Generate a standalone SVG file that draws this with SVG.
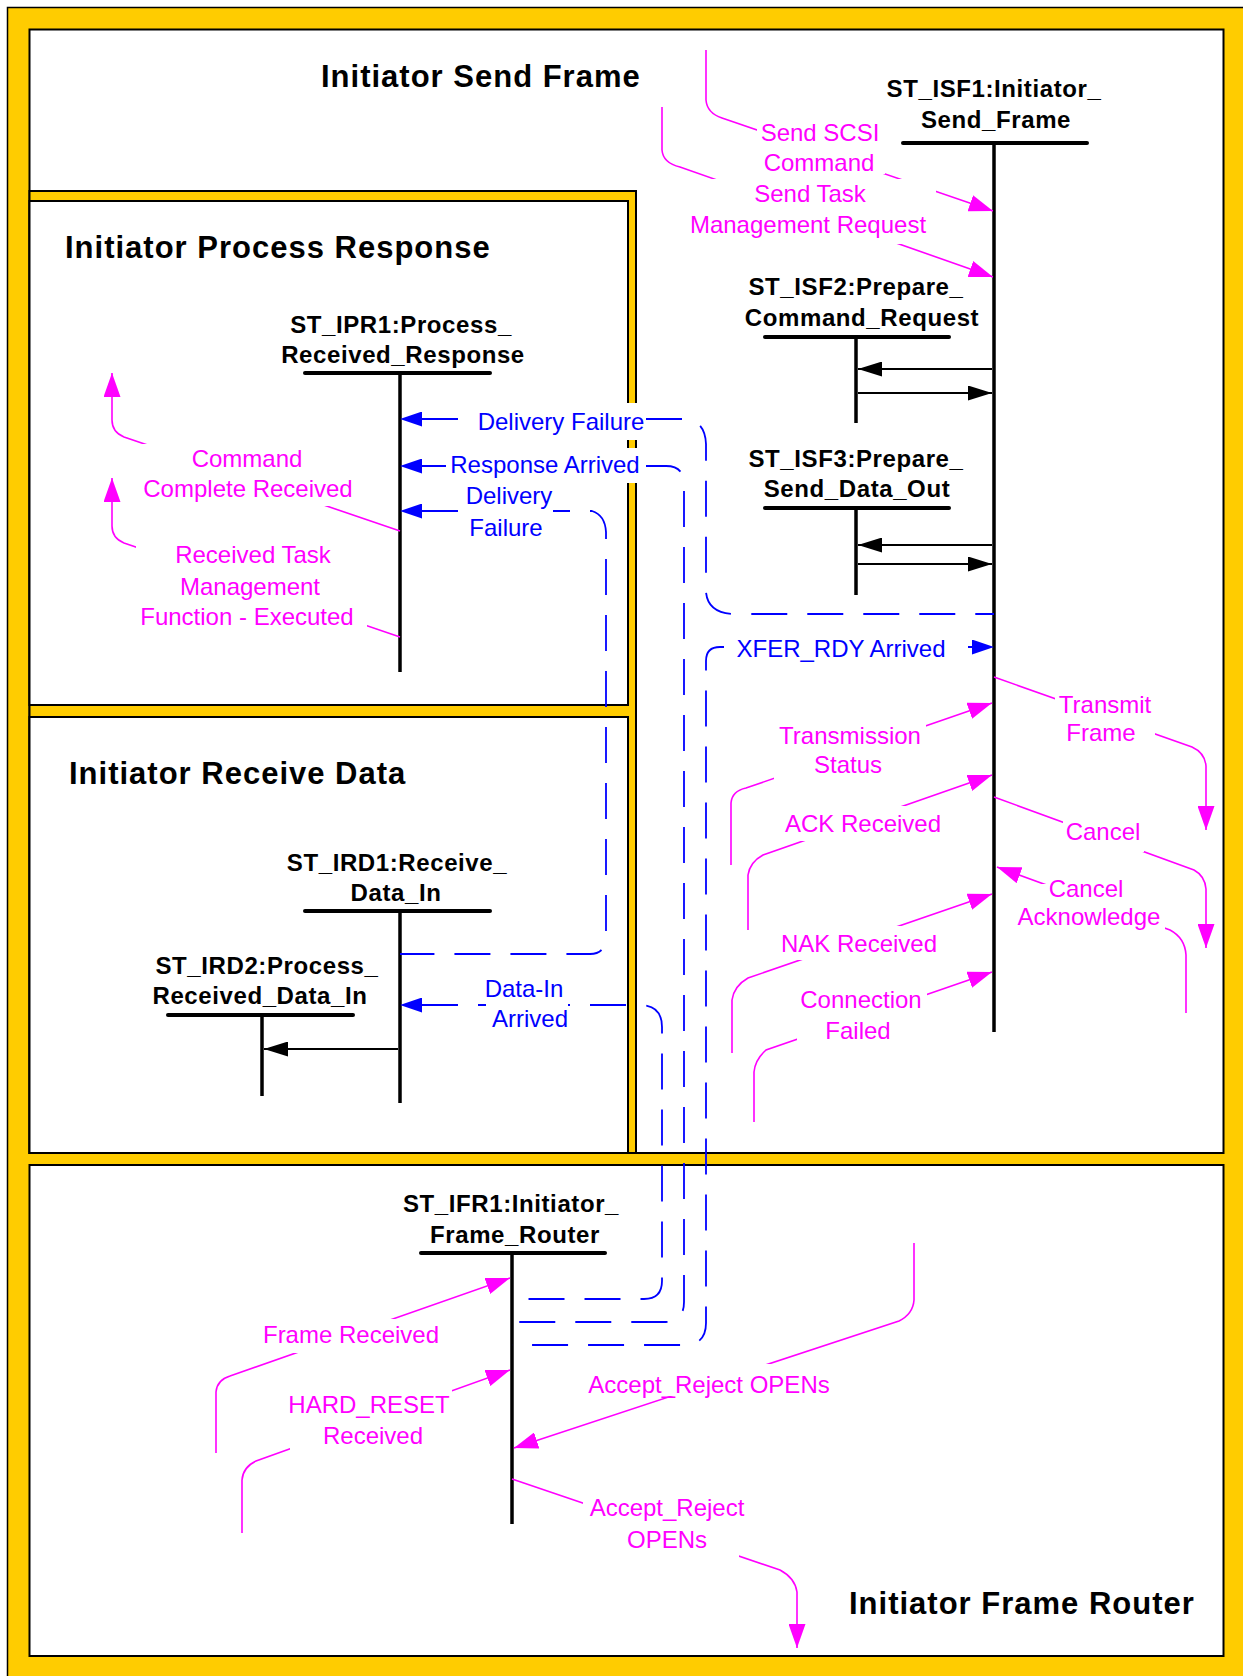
<svg xmlns="http://www.w3.org/2000/svg" width="1243" height="1676" viewBox="0 0 1243 1676">
<style>
.panel{fill:#fff;stroke:#000;stroke-width:2}
.ybox{fill:#FFCC00;stroke:#000;stroke-width:2}
.title{font-family:"Liberation Sans",Arial,sans-serif;font-weight:bold;font-size:31px;letter-spacing:1px;fill:#000}
.nl{font-family:"Liberation Sans",Arial,sans-serif;font-weight:bold;font-size:24px;letter-spacing:0.6px;fill:#000;text-anchor:middle}
.bar{stroke:#000;stroke-width:4;stroke-linecap:round;fill:none}
.life{stroke:#000;stroke-width:3.5;fill:none}
.ev{stroke:#FF00FF;stroke-width:1.6;fill:none;marker-end:url(#mh)}
.msg{stroke:#0000FF;stroke-width:1.8;fill:none;stroke-dasharray:36 20;marker-start:url(#bh)}
.int{stroke:#000;stroke-width:2;fill:none;marker-end:url(#kh)}
.lbg{fill:#fff}
.mt{font-family:"Liberation Sans",Arial,sans-serif;font-size:24px;fill:#FF00FF;text-anchor:middle}
.bt{font-family:"Liberation Sans",Arial,sans-serif;font-size:24px;fill:#0000FF;text-anchor:middle}
</style>
<defs>
<marker id="mh" markerUnits="userSpaceOnUse" markerWidth="24" markerHeight="17" refX="24" refY="8.5" orient="auto"><path d="M0,0 L24,8.5 L0,17 z" fill="#FF00FF"/></marker>
<marker id="bh" markerUnits="userSpaceOnUse" markerWidth="22" markerHeight="15" refX="0" refY="7.5" orient="auto-start-reverse"><path d="M0,0 L22,7.5 L0,15 z" fill="#0000FF"/></marker>
<marker id="kh" markerUnits="userSpaceOnUse" markerWidth="24" markerHeight="15" refX="24" refY="7.5" orient="auto"><path d="M0,0 L24,7.5 L0,15 z" fill="#000"/></marker>
</defs>

<rect x="7.5" y="7.5" width="1250" height="1690" fill="#FFCC00" stroke="#000" stroke-width="1.5"/>

<g id="panel-send-frame">
<rect class="panel" x="29.5" y="29.5" width="1194" height="1123.5"/>
<text class="title" x="321" y="87">Initiator Send Frame</text>
</g>
<g id="panel-process-response">
<rect class="ybox" x="29.5" y="191" width="606.5" height="962"/>
<rect class="panel" x="29.5" y="201" width="598.5" height="504"/>
<text class="title" x="65" y="258">Initiator Process Response</text>
</g>
<g id="panel-receive-data">
<rect class="panel" x="29.5" y="717" width="598.5" height="436"/>
<text class="title" x="69" y="784">Initiator Receive Data</text>
</g>
<g id="panel-frame-router">
<rect class="panel" x="29.5" y="1165" width="1194" height="491"/>
<text class="title" x="849" y="1614">Initiator Frame Router</text>
</g>

<g id="ST_ISF1">
<text class="nl" x="994" y="97">ST_ISF1:Initiator_</text>
<text class="nl" x="996" y="128">Send_Frame</text>
<line class="bar" x1="903" y1="143" x2="1087" y2="143"/>
<line class="life" x1="994" y1="143" x2="994" y2="1032"/>
</g>
<g id="ST_ISF2">
<text class="nl" x="856" y="295">ST_ISF2:Prepare_</text>
<text class="nl" x="862" y="326">Command_Request</text>
<line class="bar" x1="765" y1="337" x2="949" y2="337"/>
<line class="life" x1="856" y1="337" x2="856" y2="423"/>
</g>
<g id="ST_ISF3">
<text class="nl" x="856" y="467">ST_ISF3:Prepare_</text>
<text class="nl" x="857" y="497">Send_Data_Out</text>
<line class="bar" x1="765" y1="508" x2="949" y2="508"/>
<line class="life" x1="856" y1="508" x2="856" y2="595"/>
</g>
<g id="ST_IPR1">
<text class="nl" x="401" y="333">ST_IPR1:Process_</text>
<text class="nl" x="403" y="363">Received_Response</text>
<line class="bar" x1="305" y1="373" x2="490" y2="373"/>
<line class="life" x1="400" y1="373" x2="400" y2="672"/>
</g>
<g id="ST_IRD1">
<text class="nl" x="397" y="871">ST_IRD1:Receive_</text>
<text class="nl" x="396" y="901">Data_In</text>
<line class="bar" x1="305" y1="911" x2="490" y2="911"/>
<line class="life" x1="400" y1="911" x2="400" y2="1103"/>
</g>
<g id="ST_IRD2">
<text class="nl" x="267" y="974">ST_IRD2:Process_</text>
<text class="nl" x="260" y="1004">Received_Data_In</text>
<line class="bar" x1="168" y1="1015" x2="353" y2="1015"/>
<line class="life" x1="262" y1="1015" x2="262" y2="1096"/>
</g>
<g id="ST_IFR1">
<text class="nl" x="511" y="1212">ST_IFR1:Initiator_</text>
<text class="nl" x="515" y="1243">Frame_Router</text>
<line class="bar" x1="421" y1="1253" x2="605" y2="1253"/>
<line class="life" x1="512" y1="1253" x2="512" y2="1524"/>
</g>

<g id="connectors">
<path class="int" d="M992 369 H858"/>
<path class="int" d="M858 393 H992"/>
<path class="int" d="M992 545 H858"/>
<path class="int" d="M858 564 H992"/>
<path class="int" d="M398 1049 H264"/>

<path class="msg" d="M422 419 H684 Q705 420 706 444 V592 Q708 614 736 614 H994"/>
<path class="msg" d="M422 466 H666 Q684 466 684 484 V1302 Q684 1322 664 1322 H512"/>
<path class="msg" d="M422 511 H592 Q605 515 606 532 V936 Q606 954 590 954 H400"/>
<path class="msg" style="stroke-dashoffset:32" d="M972 647 H720 Q706 647 706 661 V1323 Q706 1345 684 1345 H512"/>
<path class="msg" d="M422 1005 H640 Q662 1005 662 1027 V1281 Q662 1299 644 1299 H512"/>

<path class="ev" d="M706 50 V100 Q707 113 722 118 L993 211"/>
<path class="ev" d="M662 107 V150 Q663 163 680 167 L993 277"/>
<path class="ev" d="M400 531 L124 437 Q112 432 112 420 V373"/>
<path class="ev" d="M400 637 L124 543 Q112 538 112 526 V478"/>
<path class="ev" d="M994 677 L1192 747 Q1205 753 1206 766 V830"/>
<path class="ev" d="M731 865 V803 Q732 791 746 788 L992 703"/>
<path class="ev" d="M748 930 V875 Q750 862 763 855 L992 775"/>
<path class="ev" d="M994 797 L1194 870 Q1205 876 1206 889 V948"/>
<path class="ev" d="M1186 1013 V955 Q1185 938 1170 930 L997 867"/>
<path class="ev" d="M732 1053 V1000 Q734 986 748 978 L992 894"/>
<path class="ev" d="M754 1122 V1072 Q755 1060 766 1050 L992 972"/>
<path class="ev" d="M216 1453 V1392 Q217 1380 230 1376 L510 1278"/>
<path class="ev" d="M242 1533 V1480 Q243 1467 256 1461 L510 1370"/>
<path class="ev" d="M914 1243 V1300 Q913 1314 899 1321 L514 1448"/>
<path class="ev" d="M512 1479 L780 1570 Q795 1578 797 1592 V1648"/>
</g>

<g id="connector-labels">
<rect class="lbg" x="757" y="112" width="128" height="62"/>
<text class="mt" x="820" y="141">Send SCSI</text>
<text class="mt" x="819" y="171">Command</text>
<rect class="lbg" x="680" y="179" width="256" height="65"/>
<text class="mt" x="810" y="202">Send Task</text>
<text class="mt" x="808" y="233">Management Request</text>
<rect class="lbg" x="140" y="444" width="214" height="62"/>
<text class="mt" x="247" y="467">Command</text>
<text class="mt" x="248" y="497">Complete Received</text>
<rect class="lbg" x="136" y="546" width="231" height="86"/>
<text class="mt" x="253" y="563">Received Task</text>
<text class="mt" x="250" y="595">Management</text>
<text class="mt" x="247" y="625">Function - Executed</text>
<rect class="lbg" x="1055" y="692" width="100" height="56"/>
<text class="mt" x="1105" y="713">Transmit</text>
<text class="mt" x="1101" y="741">Frame</text>
<rect class="lbg" x="774" y="724" width="152" height="57"/>
<text class="mt" x="850" y="744">Transmission</text>
<text class="mt" x="848" y="773">Status</text>
<rect class="lbg" x="782" y="806" width="162" height="35"/>
<text class="mt" x="863" y="832">ACK Received</text>
<rect class="lbg" x="1063" y="816" width="81" height="36"/>
<text class="mt" x="1103" y="840">Cancel</text>
<rect class="lbg" x="1013" y="884" width="152" height="47"/>
<text class="mt" x="1086" y="897">Cancel</text>
<text class="mt" x="1089" y="925">Acknowledge</text>
<rect class="lbg" x="779" y="926" width="161" height="34"/>
<text class="mt" x="859" y="952">NAK Received</text>
<rect class="lbg" x="797" y="990" width="130" height="56"/>
<text class="mt" x="861" y="1008">Connection</text>
<text class="mt" x="858" y="1039">Failed</text>
<rect class="lbg" x="262" y="1319" width="178" height="34"/>
<text class="mt" x="351" y="1343">Frame Received</text>
<rect class="lbg" x="290" y="1390" width="162" height="60"/>
<text class="mt" x="369" y="1413">HARD_RESET</text>
<text class="mt" x="373" y="1444">Received</text>
<rect class="lbg" x="588" y="1364" width="242" height="32"/>
<text class="mt" x="709" y="1393">Accept_Reject OPENs</text>
<rect class="lbg" x="583" y="1496" width="156" height="62"/>
<text class="mt" x="667" y="1516">Accept_Reject</text>
<text class="mt" x="667" y="1548">OPENs</text>

<rect class="lbg" x="460" y="403" width="186" height="37"/>
<text class="bt" x="561" y="430">Delivery Failure</text>
<rect class="lbg" x="446" y="448" width="199" height="35"/>
<text class="bt" x="545" y="473">Response Arrived</text>
<rect class="lbg" x="461" y="486" width="92" height="56"/>
<text class="bt" x="509" y="504">Delivery</text>
<text class="bt" x="506" y="536">Failure</text>
<rect class="lbg" x="726" y="634" width="240" height="30"/>
<text class="bt" x="841" y="657">XFER_RDY Arrived</text>
<rect class="lbg" x="486" y="978" width="82" height="54"/>
<text class="bt" x="524" y="997">Data-In</text>
<text class="bt" x="530" y="1027">Arrived</text>
</g>
</svg>
